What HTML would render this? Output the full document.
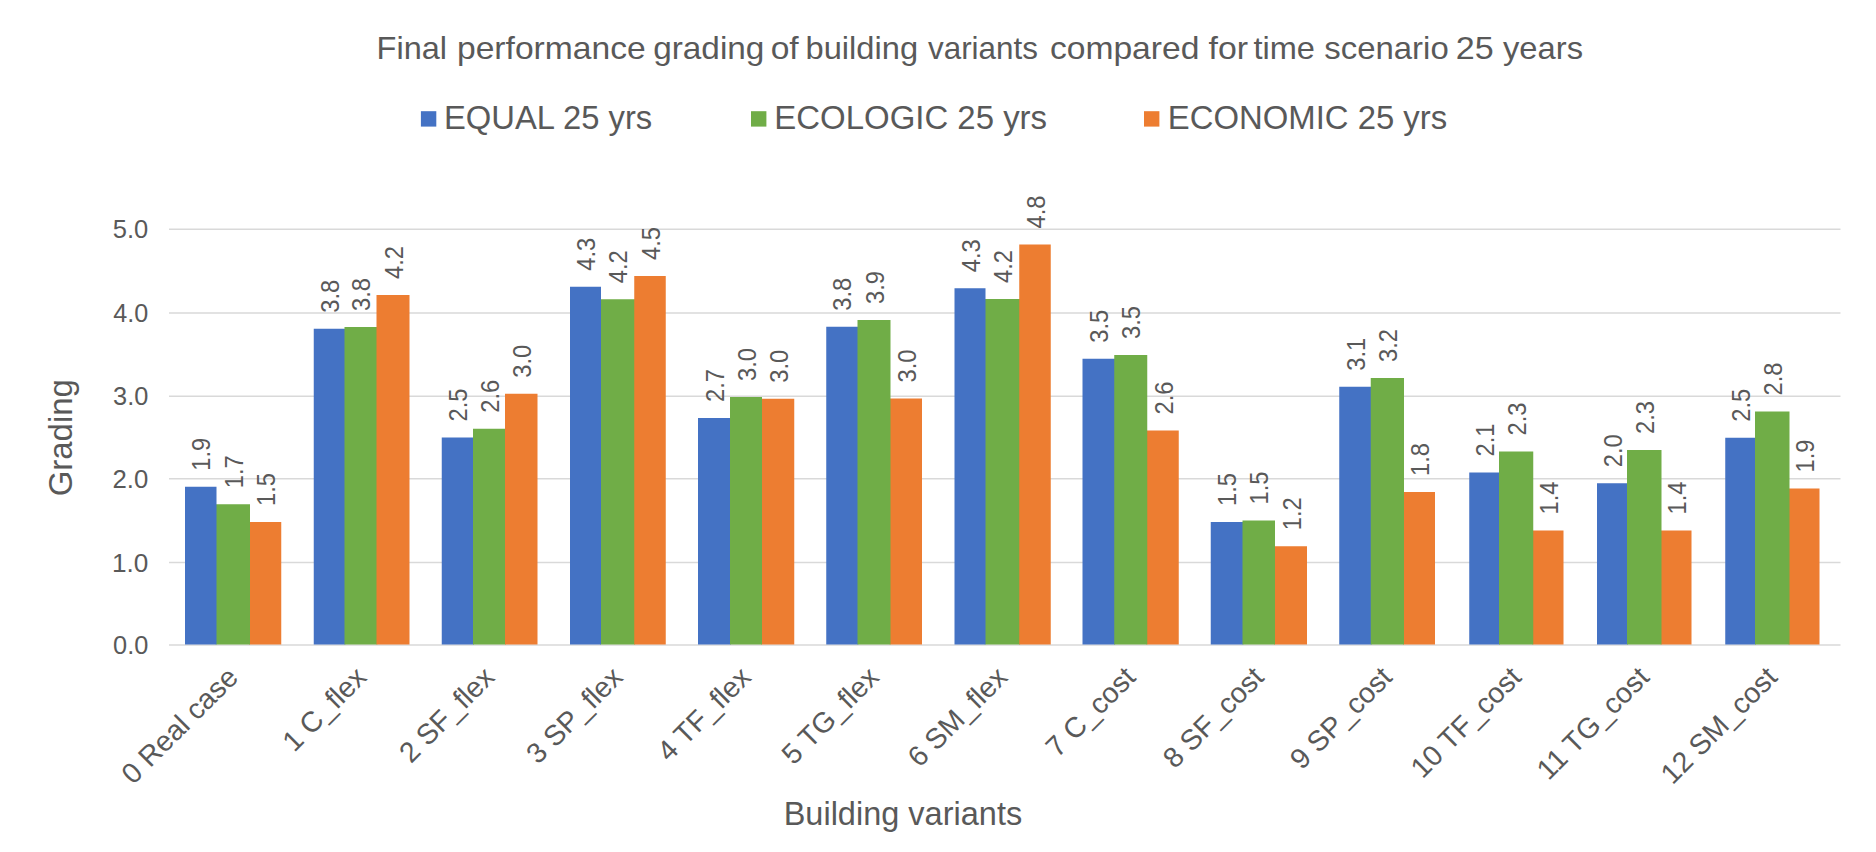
<!DOCTYPE html>
<html lang="en"><head><meta charset="utf-8"><title>Final performance grading of building variants</title>
<style>
html,body{margin:0;padding:0;background:#fff}
body{width:1876px;height:852px;overflow:hidden}
svg{display:block}
text{font-family:"Liberation Sans",Arial,sans-serif;fill:#595959}
.dl{font-size:25px}.ct{font-size:28.5px}.ax{font-size:33px}
</style></head><body>
<svg width="1876" height="852" viewBox="0 0 1876 852">
<rect width="1876" height="852" fill="#fff"/>
<g stroke="#D9D9D9" stroke-width="1.4" fill="none">
<line x1="169" y1="229.25" x2="1840.5" y2="229.25"/>
<line x1="169" y1="313" x2="1840.5" y2="313"/>
<line x1="169" y1="396.25" x2="1840.5" y2="396.25"/>
<line x1="169" y1="478.75" x2="1840.5" y2="478.75"/>
<line x1="169" y1="562.5" x2="1840.5" y2="562.5"/>
<line x1="169" y1="645" x2="1840.5" y2="645"/>
</g>
<rect x="249.2" y="522" width="32.05" height="122.5" fill="#ED7D31"/>
<rect x="215.7" y="504.25" width="34.3" height="140.25" fill="#70AD47"/>
<rect x="185" y="486.75" width="31.5" height="157.75" fill="#4472C4"/>
<rect x="313.75" y="328.75" width="31.55" height="315.75" fill="#4472C4"/>
<rect x="344.5" y="327" width="32.8" height="317.5" fill="#70AD47"/>
<rect x="376.5" y="295" width="33.0" height="349.5" fill="#ED7D31"/>
<rect x="441.75" y="437.5" width="32.05" height="207.0" fill="#4472C4"/>
<rect x="473" y="428.75" width="32.8" height="215.75" fill="#70AD47"/>
<rect x="505" y="393.75" width="32.5" height="250.75" fill="#ED7D31"/>
<rect x="600.2" y="299.25" width="34.85" height="345.25" fill="#70AD47"/>
<rect x="570" y="286.75" width="31" height="357.75" fill="#4472C4"/>
<rect x="634.25" y="276" width="31.5" height="368.5" fill="#ED7D31"/>
<rect x="698" y="418" width="32.8" height="226.5" fill="#4472C4"/>
<rect x="761.2" y="398.75" width="33.05" height="245.75" fill="#ED7D31"/>
<rect x="730" y="397" width="32" height="247.5" fill="#70AD47"/>
<rect x="889.7" y="398.5" width="32.3" height="246.0" fill="#ED7D31"/>
<rect x="826.25" y="326.75" width="32.05" height="317.75" fill="#4472C4"/>
<rect x="857.5" y="320" width="33.0" height="324.5" fill="#70AD47"/>
<rect x="984.7" y="299" width="35.35" height="345.5" fill="#70AD47"/>
<rect x="954.5" y="288.25" width="31.0" height="356.25" fill="#4472C4"/>
<rect x="1019.25" y="244.5" width="31.5" height="400.0" fill="#ED7D31"/>
<rect x="1146.45" y="430.5" width="32.3" height="214.0" fill="#ED7D31"/>
<rect x="1082.5" y="358.75" width="32.55" height="285.75" fill="#4472C4"/>
<rect x="1114.25" y="355" width="33.0" height="289.5" fill="#70AD47"/>
<rect x="1274.2" y="546.25" width="32.8" height="98.25" fill="#ED7D31"/>
<rect x="1210.75" y="522" width="32.55" height="122.5" fill="#4472C4"/>
<rect x="1242.5" y="520.5" width="32.5" height="124.0" fill="#70AD47"/>
<rect x="1403.2" y="492" width="31.8" height="152.5" fill="#ED7D31"/>
<rect x="1339.25" y="386.75" width="32.3" height="257.75" fill="#4472C4"/>
<rect x="1370.75" y="378" width="33.25" height="266.5" fill="#70AD47"/>
<rect x="1532.45" y="530.5" width="31.05" height="114.0" fill="#ED7D31"/>
<rect x="1469.25" y="472.5" width="30.55" height="172.0" fill="#4472C4"/>
<rect x="1499" y="451.5" width="34.25" height="193.0" fill="#70AD47"/>
<rect x="1660.7" y="530.5" width="30.8" height="114.0" fill="#ED7D31"/>
<rect x="1597" y="483.25" width="30.8" height="161.25" fill="#4472C4"/>
<rect x="1627" y="450" width="34.5" height="194.5" fill="#70AD47"/>
<rect x="1788.7" y="488.5" width="30.8" height="156.0" fill="#ED7D31"/>
<rect x="1725.25" y="437.75" width="30.55" height="206.75" fill="#4472C4"/>
<rect x="1755" y="411.5" width="34.5" height="233.0" fill="#70AD47"/>
<g class="dl">
<text transform="translate(210.25 470.75) rotate(-90) scale(0.95 1)">1.9</text>
<text transform="translate(242.75 488.25) rotate(-90) scale(0.95 1)">1.7</text>
<text transform="translate(275.12 506) rotate(-90) scale(0.95 1)">1.5</text>
<text transform="translate(338.62 312.75) rotate(-90) scale(0.95 1)">3.8</text>
<text transform="translate(370.0 311) rotate(-90) scale(0.95 1)">3.8</text>
<text transform="translate(402.5 279) rotate(-90) scale(0.95 1)">4.2</text>
<text transform="translate(466.88 421.5) rotate(-90) scale(0.95 1)">2.5</text>
<text transform="translate(498.5 412.75) rotate(-90) scale(0.95 1)">2.6</text>
<text transform="translate(530.75 377.75) rotate(-90) scale(0.95 1)">3.0</text>
<text transform="translate(595.0 270.75) rotate(-90) scale(0.95 1)">4.3</text>
<text transform="translate(627.12 283.25) rotate(-90) scale(0.95 1)">4.2</text>
<text transform="translate(659.5 260) rotate(-90) scale(0.95 1)">4.5</text>
<text transform="translate(723.5 402) rotate(-90) scale(0.95 1)">2.7</text>
<text transform="translate(755.5 381) rotate(-90) scale(0.95 1)">3.0</text>
<text transform="translate(787.62 382.75) rotate(-90) scale(0.95 1)">3.0</text>
<text transform="translate(851.38 310.75) rotate(-90) scale(0.95 1)">3.8</text>
<text transform="translate(883.5 304) rotate(-90) scale(0.95 1)">3.9</text>
<text transform="translate(915.75 382.5) rotate(-90) scale(0.95 1)">3.0</text>
<text transform="translate(979.5 272.25) rotate(-90) scale(0.95 1)">4.3</text>
<text transform="translate(1011.88 283) rotate(-90) scale(0.95 1)">4.2</text>
<text transform="translate(1044.5 228.5) rotate(-90) scale(0.95 1)">4.8</text>
<text transform="translate(1107.88 342.75) rotate(-90) scale(0.95 1)">3.5</text>
<text transform="translate(1140.25 339) rotate(-90) scale(0.95 1)">3.5</text>
<text transform="translate(1172.5 414.5) rotate(-90) scale(0.95 1)">2.6</text>
<text transform="translate(1236.12 506) rotate(-90) scale(0.95 1)">1.5</text>
<text transform="translate(1268.25 504.5) rotate(-90) scale(0.95 1)">1.5</text>
<text transform="translate(1300.5 530.25) rotate(-90) scale(0.95 1)">1.2</text>
<text transform="translate(1364.5 370.75) rotate(-90) scale(0.95 1)">3.1</text>
<text transform="translate(1396.88 362) rotate(-90) scale(0.95 1)">3.2</text>
<text transform="translate(1429.0 476) rotate(-90) scale(0.95 1)">1.8</text>
<text transform="translate(1493.62 456.5) rotate(-90) scale(0.95 1)">2.1</text>
<text transform="translate(1525.62 435.5) rotate(-90) scale(0.95 1)">2.3</text>
<text transform="translate(1557.88 514.5) rotate(-90) scale(0.95 1)">1.4</text>
<text transform="translate(1621.5 467.25) rotate(-90) scale(0.95 1)">2.0</text>
<text transform="translate(1653.75 434) rotate(-90) scale(0.95 1)">2.3</text>
<text transform="translate(1686.0 514.5) rotate(-90) scale(0.95 1)">1.4</text>
<text transform="translate(1749.62 421.75) rotate(-90) scale(0.95 1)">2.5</text>
<text transform="translate(1781.75 395.5) rotate(-90) scale(0.95 1)">2.8</text>
<text transform="translate(1814.0 472.5) rotate(-90) scale(0.95 1)">1.9</text>
</g>
<g class="ct" text-anchor="end">
<text transform="translate(239.62 679) rotate(-45)">0 Real case</text>
<text transform="translate(368.12 679) rotate(-45)">1 C_flex</text>
<text transform="translate(496.12 679) rotate(-45)">2 SF_flex</text>
<text transform="translate(624.38 679) rotate(-45)">3 SP_flex</text>
<text transform="translate(752.62 679) rotate(-45)">4 TF_flex</text>
<text transform="translate(880.62 679) rotate(-45)">5 TG_flex</text>
<text transform="translate(1009.12 679) rotate(-45)">6 SM_flex</text>
<text transform="translate(1137.12 679) rotate(-45)">7 C_cost</text>
<text transform="translate(1265.38 679) rotate(-45)">8 SF_cost</text>
<text transform="translate(1393.62 679) rotate(-45)">9 SP_cost</text>
<text transform="translate(1522.88 679) rotate(-45)">10 TF_cost</text>
<text transform="translate(1650.75 679) rotate(-45)">11 TG_cost</text>
<text transform="translate(1778.88 679) rotate(-45)">12 SM_cost</text>
</g>
<text font-size="32" y="59.3"><tspan x="376.60" textLength="70.42" lengthAdjust="spacingAndGlyphs">Final</tspan> <tspan x="456.98" textLength="188.73" lengthAdjust="spacingAndGlyphs">performance</tspan> <tspan x="653.17" textLength="111.21" lengthAdjust="spacingAndGlyphs">grading</tspan> <tspan x="770.66" textLength="28.02" lengthAdjust="spacingAndGlyphs">of</tspan> <tspan x="805.54" textLength="112.54" lengthAdjust="spacingAndGlyphs">building</tspan> <tspan x="928.00" textLength="109.94" lengthAdjust="spacingAndGlyphs">variants</tspan> <tspan x="1049.91" textLength="149.48" lengthAdjust="spacingAndGlyphs">compared</tspan> <tspan x="1208.56" textLength="39.48" lengthAdjust="spacingAndGlyphs">for</tspan> <tspan x="1253.42" textLength="61.50" lengthAdjust="spacingAndGlyphs">time</tspan> <tspan x="1324.34" textLength="124.35" lengthAdjust="spacingAndGlyphs">scenario</tspan> <tspan x="1455.79" textLength="37.94" lengthAdjust="spacingAndGlyphs">25</tspan> <tspan x="1503.00" textLength="79.98" lengthAdjust="spacingAndGlyphs">years</tspan></text>
<text font-size="33.4" transform="translate(443.98 129.40) scale(0.9815 1)">EQUAL 25 yrs</text>
<text font-size="33.4" transform="translate(774.36 129.40) scale(0.9867 1)">ECOLOGIC 25 yrs</text>
<text font-size="33.4" transform="translate(1167.87 129.40) scale(0.9839 1)">ECONOMIC 25 yrs</text>
<text font-size="33" transform="translate(783.65 825.30) scale(0.9853 1)">Building variants</text>
<text font-size="25" transform="translate(112.78 238.25) scale(1.0228 1)">5.0</text>
<text font-size="25" transform="translate(113.30 322.00) scale(1.0075 1)">4.0</text>
<text font-size="25" transform="translate(113.04 405.25) scale(1.0151 1)">3.0</text>
<text font-size="25" transform="translate(112.51 487.75) scale(1.0307 1)">2.0</text>
<text font-size="25" transform="translate(111.97 571.50) scale(1.0467 1)">1.0</text>
<text font-size="25" transform="translate(113.04 654.00) scale(1.0151 1)">0.0</text>
<rect x="420.9" y="111.2" width="15.4" height="15.4" fill="#4472C4"/>
<rect x="751" y="111.2" width="15.4" height="15.4" fill="#70AD47"/>
<rect x="1144" y="111.2" width="15.4" height="15.4" fill="#ED7D31"/>
<text font-size="33.8" text-anchor="middle" transform="translate(72.4 437.7) rotate(-90) scale(0.975 1)">Grading</text>
</svg></body></html>
